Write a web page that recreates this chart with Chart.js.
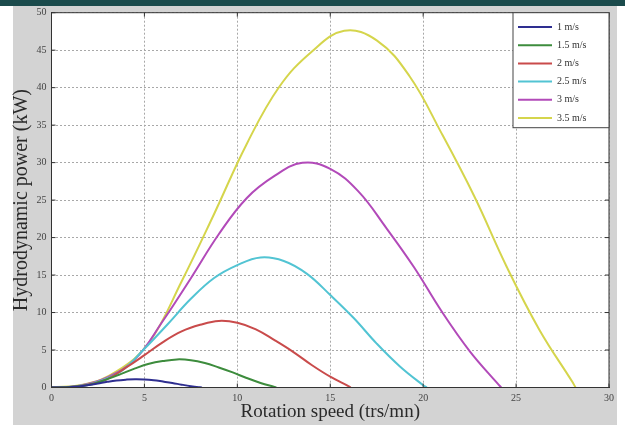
<!DOCTYPE html>
<html lang="en">
<head>
  <meta charset="UTF-8" />
  <title>Hydrodynamic power vs rotation speed</title>
  <script src="https://cdn.jsdelivr.net/npm/chart.js"></script>
  <style>
    html, body { margin: 0; padding: 0; background: #fff; }
  </style>
</head>
<body>
  <canvas id="powerChart" width="625" height="425"></canvas>

  <script>
    // values
    const seriesLabels = ['1 m/s', '1.5 m/s', '2 m/s', '2.5 m/s', '3 m/s', '3.5 m/s'];

    const rpm_1 = [0, 0.5, 1, 1.5, 2, 2.5, 3, 3.5, 4, 4.5, 5, 5.5, 6, 6.5, 7, 7.5, 8, 8.1];
    const kw_1 = [0, 0.01, 0.05, 0.14, 0.33, 0.54, 0.76, 0.94, 1.05, 1.11, 1.08, 0.97, 0.79, 0.6, 0.38, 0.18, 0.02, 0];

    const rpm_15 = [0, 0.75, 1.5, 2.25, 3, 3.75, 4.5, 5.25, 6, 6.75, 7.5, 8.25, 9, 9.75, 10.5, 11.25, 12, 12.1];
    const kw_15 = [0, 0.03, 0.17, 0.47, 1.11, 1.82, 2.55, 3.16, 3.53, 3.75, 3.65, 3.27, 2.67, 2.01, 1.27, 0.61, 0.07, 0];

    const rpm_2 = [0, 1, 2, 3, 4, 5, 6, 7, 8, 9, 10, 11, 12, 13, 14, 15, 16, 16.1];
    const kw_2 = [0, 0.07, 0.4, 1.12, 2.64, 4.32, 6.06, 7.48, 8.36, 8.88, 8.64, 7.76, 6.32, 4.76, 3.0, 1.44, 0.16, 0];

    const rpm_25 = [0, 1.25, 2.5, 3.75, 5, 6.25, 7.5, 8.75, 10, 11.25, 12.5, 13.75, 15, 16.25, 17.5, 18.75, 20, 20.2];
    const kw_25 = [0, 0.14, 0.78, 2.19, 5.16, 8.44, 11.83, 14.61, 16.33, 17.34, 16.88, 15.16, 12.34, 9.3, 5.86, 2.81, 0.31, 0];

    const rpm_3 = [0, 1.5, 3, 4.5, 6, 7.5, 9, 10.5, 12, 13.5, 15, 16.5, 18, 19.5, 21, 22.5, 24, 24.2];
    const kw_3 = [0, 0.24, 1.35, 3.78, 8.91, 14.58, 20.44, 25.25, 28.22, 29.97, 29.16, 26.19, 21.33, 16.07, 10.13, 4.86, 0.54, 0];

    const rpm_35 = [0, 1.75, 3.5, 5.25, 7, 8.75, 10.5, 12.25, 14, 15.75, 17.5, 19.25, 21, 22.75, 24.5, 26.25, 28, 28.2];
    const kw_35 = [0, 0.39, 2.14, 6.0, 14.15, 23.15, 32.46, 40.09, 44.8, 47.59, 46.31, 41.59, 33.87, 25.51, 16.08, 7.72, 0.86, 0];

    const xSeries = [rpm_1, rpm_15, rpm_2, rpm_25, rpm_3, rpm_35];
    const ySeries = [kw_1, kw_15, kw_2, kw_25, kw_3, kw_35];

    const lineColors = ['#2e2e90', '#3d8c3d', '#c94b4b', '#52c4d3', '#b24ab9', '#d5d54c'];
    const serif = '"Liberation Serif", "DejaVu Serif", serif';

    const datasets = seriesLabels.map((label, i) => ({
      label: label,
      data: xSeries[i].map((x, j) => ({ x: x, y: ySeries[i][j] })),
      borderColor: lineColors[i],
      backgroundColor: lineColors[i],
      borderWidth: 2,
      pointRadius: 0,
      fill: false,
      tension: 0.4
    }));

    // grey figure background, teal strip on top, white axes area
    const figureBg = {
      id: 'figureBg',
      beforeDraw(chart) {
        const { ctx, chartArea: a } = chart;
        ctx.save();
        ctx.fillStyle = '#ffffff';
        ctx.fillRect(0, 0, chart.width, chart.height);
        ctx.fillStyle = '#d3d3d3';
        ctx.fillRect(13, 6, 604, chart.height - 6);
        ctx.fillStyle = '#1b4b4c';
        ctx.fillRect(0, 0, chart.width, 6);
        ctx.fillStyle = '#ffffff';
        ctx.fillRect(a.left, a.top, a.right - a.left, a.bottom - a.top);
        ctx.restore();
      }
    };

    // matlab style box with inward ticks, plus legend in the corner
    const boxAndLegend = {
      id: 'boxAndLegend',
      afterDraw(chart) {
        const { ctx, chartArea: a, scales } = chart;
        ctx.save();
        ctx.strokeStyle = '#333';
        ctx.lineWidth = 1;
        ctx.strokeRect(a.left, a.top, a.right - a.left, a.bottom - a.top);

        ctx.beginPath();
        scales.x.ticks.forEach(t => {
          const px = scales.x.getPixelForValue(t.value);
          ctx.moveTo(px, a.bottom); ctx.lineTo(px, a.bottom - 4);
          ctx.moveTo(px, a.top); ctx.lineTo(px, a.top + 4);
        });
        scales.y.ticks.forEach(t => {
          const py = scales.y.getPixelForValue(t.value);
          ctx.moveTo(a.left, py); ctx.lineTo(a.left + 4, py);
          ctx.moveTo(a.right, py); ctx.lineTo(a.right - 4, py);
        });
        ctx.stroke();

        // legend
        const lx = 513, ly = a.top, lw = a.right - 513, lh = 115;
        ctx.fillStyle = '#ffffff';
        ctx.fillRect(lx, ly, lw, lh);
        ctx.strokeStyle = '#444';
        ctx.strokeRect(lx, ly, lw, lh);
        ctx.font = '10px ' + serif;
        ctx.textBaseline = 'middle';
        ctx.textAlign = 'left';
        chart.data.datasets.forEach((ds, i) => {
          const y = 27 + i * 18.2;
          ctx.strokeStyle = ds.borderColor;
          ctx.lineWidth = 2;
          ctx.beginPath();
          ctx.moveTo(lx + 5, y);
          ctx.lineTo(lx + 39, y);
          ctx.stroke();
          ctx.fillStyle = '#333';
          ctx.fillText(ds.label, lx + 44, y);
        });
        ctx.restore();
      }
    };

    const ctx = document.getElementById('powerChart').getContext('2d');
    new Chart(ctx, {
      type: 'line',
      data: { datasets: datasets },
      options: {
        responsive: false,
        animation: false,
        layout: { padding: { left: 0, top: 12.7, right: 16, bottom: 0 } },
        plugins: {
          legend: { display: false },
          tooltip: { enabled: false }
        },
        scales: {
          x: {
            type: 'linear',
            min: 0,
            max: 30,
            afterFit(scale) { scale.height = 37.5; },
            ticks: { stepSize: 5, padding: 5, color: '#444', font: { family: serif, size: 10 } },
            grid: { color: '#a8a8a8', drawTicks: false },
            border: { color: '#333', dash: [2, 2] },
            title: {
              display: true,
              text: 'Rotation speed (trs/mn)',
              color: '#2a2a2a',
              font: { family: serif, size: 19, lineHeight: 1.2 },
              padding: { top: 0, bottom: 2 }
            }
          },
          y: {
            min: 0,
            max: 50,
            afterFit(scale) { scale.width = 51.5; },
            ticks: { stepSize: 5, padding: 5, color: '#444', font: { family: serif, size: 10 } },
            grid: { color: '#a8a8a8', drawTicks: false },
            border: { color: '#333', dash: [2, 2] },
            title: {
              display: true,
              text: 'Hydrodynamic power (kW)',
              color: '#2a2a2a',
              font: { family: serif, size: 20, lineHeight: 1.2 },
              padding: { top: 10, bottom: 0 }
            }
          }
        }
      },
      plugins: [figureBg, boxAndLegend]
    });
  </script>
</body>
</html>
